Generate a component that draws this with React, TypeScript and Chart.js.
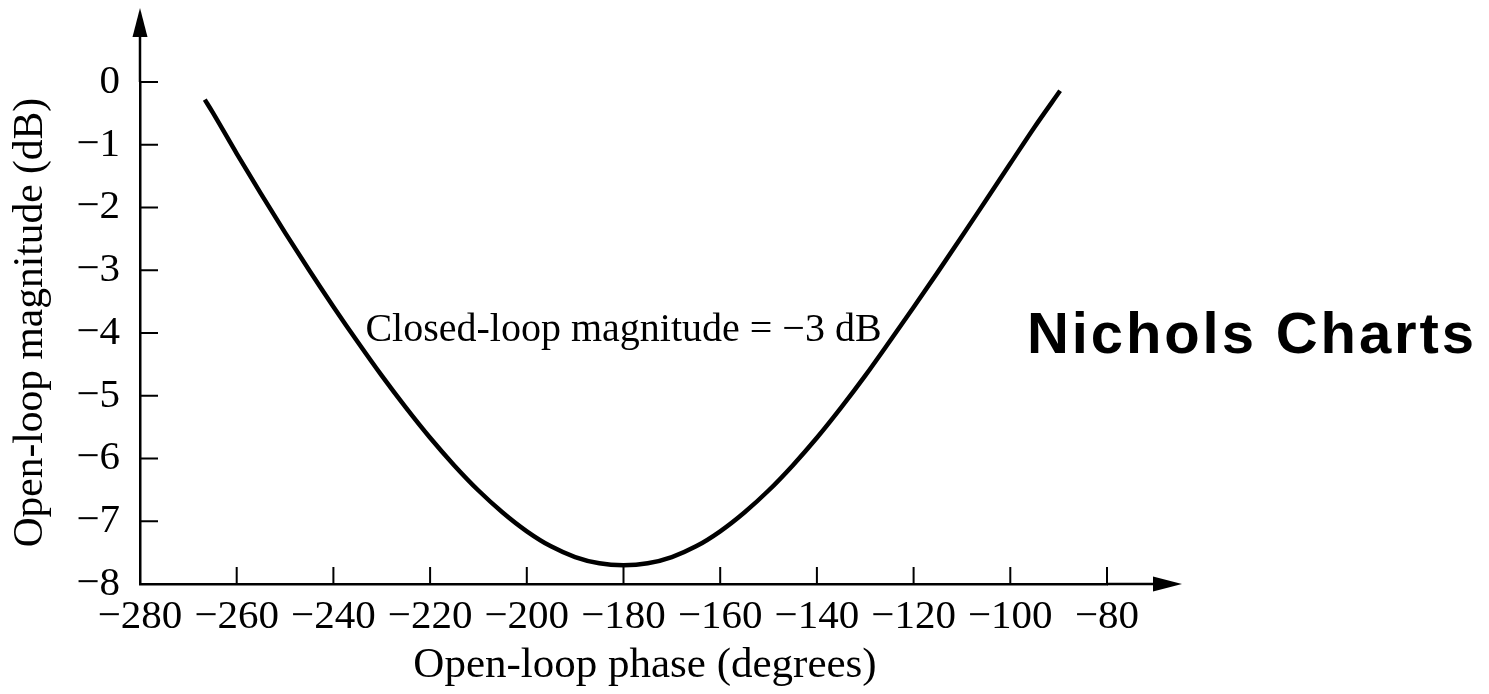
import React, { useEffect, useRef } from 'react';
import { Chart, registerables } from 'chart.js';

Chart.register(...registerables);

// Open-loop phase (degrees) of the -3 dB closed-loop contour
const phaseDeg = [
  -266.6, -265, -260, -255, -250, -245, -240, -235, -230, -225, -220, -215,
  -210, -205, -200, -195, -190, -185, -180, -175, -170, -165, -160, -155,
  -150, -145, -140, -135, -130, -125, -120, -115, -110, -105, -100, -95, -89.7,
];
// Open-loop magnitude (dB)
const magnitudeDb = [
  -0.28, -0.48, -1.14, -1.78, -2.4, -3.0, -3.58, -4.14, -4.68, -5.19, -5.67, -6.11,
  -6.51, -6.86, -7.16, -7.4, -7.57, -7.67, -7.7, -7.67, -7.57, -7.4, -7.16, -6.86,
  -6.51, -6.11, -5.67, -5.19, -4.68, -4.14, -3.59, -3.03, -2.46, -1.88, -1.3, -0.72, -0.14,
];

const phaseTicks = [-280, -260, -240, -220, -200, -180, -160, -140, -120, -100, -80];
const magnitudeTicks = [-8, -7, -6, -5, -4, -3, -2, -1, 0];

const chartTitle = 'Nichols Charts';
const contourLabel = 'Closed-loop magnitude = \u22123 dB';
const contourLabelAt = { phase: -180, mag: -4 };
const xAxisTitle = 'Open-loop phase (degrees)';
const yAxisTitle = 'Open-loop magnitude (dB)';

const SERIF = "'Liberation Serif', 'Times New Roman', serif";
const SANS = "'Liberation Sans', Arial, sans-serif";

const fmt = (v: number | string) => {
  const n = Number(v);
  return n < 0 ? '\u2212' + Math.abs(n) : String(n);
};

const decorPlugin = {
  id: 'nicholsDecor',
  afterDraw(chart: any) {
    const { ctx, scales } = chart;
    const xs = scales.x;
    const ys = scales.y;
    const x0 = xs.getPixelForValue(xs.min);
    const xEnd = xs.getPixelForValue(xs.max);
    const y0 = ys.getPixelForValue(ys.min);
    const yTop = ys.getPixelForValue(ys.max);
    ctx.save();
    ctx.strokeStyle = '#000';
    ctx.fillStyle = '#000';

    // axis extensions with arrow heads
    ctx.lineWidth = 2.5;
    ctx.beginPath();
    ctx.moveTo(x0, yTop);
    ctx.lineTo(x0, yTop - 50);
    ctx.moveTo(xEnd, y0);
    ctx.lineTo(xEnd + 50, y0);
    ctx.stroke();

    ctx.beginPath();
    ctx.moveTo(x0, yTop - 74);
    ctx.lineTo(x0 - 7.5, yTop - 45);
    ctx.lineTo(x0 + 7.5, yTop - 45);
    ctx.closePath();
    ctx.fill();

    ctx.beginPath();
    ctx.moveTo(xEnd + 75, y0);
    ctx.lineTo(xEnd + 46, y0 - 7.5);
    ctx.lineTo(xEnd + 46, y0 + 7.5);
    ctx.closePath();
    ctx.fill();

    // inward tick marks
    ctx.lineWidth = 2;
    ctx.beginPath();
    xs.ticks.forEach((t: any) => {
      if (t.value === xs.min) return;
      const px = xs.getPixelForValue(t.value);
      ctx.moveTo(px, y0);
      ctx.lineTo(px, y0 - 17);
    });
    ys.ticks.forEach((t: any) => {
      if (t.value === ys.min) return;
      const py = ys.getPixelForValue(t.value);
      ctx.moveTo(x0, py);
      ctx.lineTo(x0 + 18, py);
    });
    ctx.stroke();

    // contour label
    ctx.font = `40px ${SERIF}`;
    ctx.textAlign = 'center';
    ctx.textBaseline = 'alphabetic';
    ctx.fillText(
      contourLabel,
      xs.getPixelForValue(contourLabelAt.phase),
      ys.getPixelForValue(contourLabelAt.mag) + 8
    );

    // chart title
    ctx.font = `bold 58px ${SANS}`;
    try {
      (ctx as any).letterSpacing = '2.9px';
    } catch (e) {}
    ctx.textAlign = 'left';
    ctx.fillText(chartTitle, 1027, 353);
    ctx.restore();
  },
};

export default function App() {
  const canvasRef = useRef<HTMLCanvasElement | null>(null);

  useEffect(() => {
    if (!canvasRef.current) return;
    Chart.defaults.font.family = SERIF;
    Chart.defaults.color = '#000';
    const chart = new Chart(canvasRef.current, {
      type: 'line',
      data: {
        datasets: [
          {
            label: 'M = -3 dB',
            data: phaseDeg.map((p, i) => ({ x: p, y: magnitudeDb[i] })),
            borderColor: '#000',
            borderWidth: 4.5,
            pointRadius: 0,
            fill: false,
            cubicInterpolationMode: 'monotone',
            clip: false,
          } as any,
        ],
      },
      options: {
        animation: false,
        responsive: false,
        maintainAspectRatio: false,
        layout: { padding: { top: 82, right: 382, left: 0, bottom: 0 } },
        plugins: {
          legend: { display: false },
          tooltip: { enabled: false },
          title: { display: false },
        },
        scales: {
          x: {
            type: 'linear',
            min: -280,
            max: -80,
            afterBuildTicks: (s: any) => {
              s.ticks = phaseTicks.map((v) => ({ value: v }));
            },
            afterFit: (s: any) => {
              s.height = 110;
            },
            grid: { display: false, drawTicks: false },
            border: { display: true, color: '#000', width: 2.5 },
            ticks: {
              color: '#000',
              font: { size: 41, family: SERIF },
              padding: 9,
              maxRotation: 0,
              autoSkip: false,
              callback: fmt,
            },
            title: {
              display: true,
              text: '\u2002\u2002' + xAxisTitle,
              color: '#000',
              font: { size: 43, family: SERIF },
              padding: { top: 0, bottom: 2 },
            },
          },
          y: {
            type: 'linear',
            min: -8,
            max: 0,
            afterBuildTicks: (s: any) => {
              s.ticks = magnitudeTicks.map((v) => ({ value: v }));
            },
            afterFit: (s: any) => {
              s.width = 140;
            },
            grid: { display: false, drawTicks: false },
            border: { display: true, color: '#000', width: 2.5 },
            ticks: {
              color: '#000',
              font: { size: 41, family: SERIF },
              padding: 20,
              autoSkip: false,
              callback: fmt,
            },
            title: {
              display: true,
              text: '\u2002' + yAxisTitle,
              color: '#000',
              font: { size: 41.5, family: SERIF },
              padding: { top: 6, bottom: 0 },
            },
          },
        },
      },
      plugins: [decorPlugin],
    });
    return () => chart.destroy();
  }, []);

  return (
    <div style={{ position: 'absolute', left: 0, top: 0, width: 1489, height: 694, background: '#fff' }}>
      <canvas ref={canvasRef} width={1489} height={694} style={{ width: 1489, height: 694, display: 'block' }} />
    </div>
  );
}
